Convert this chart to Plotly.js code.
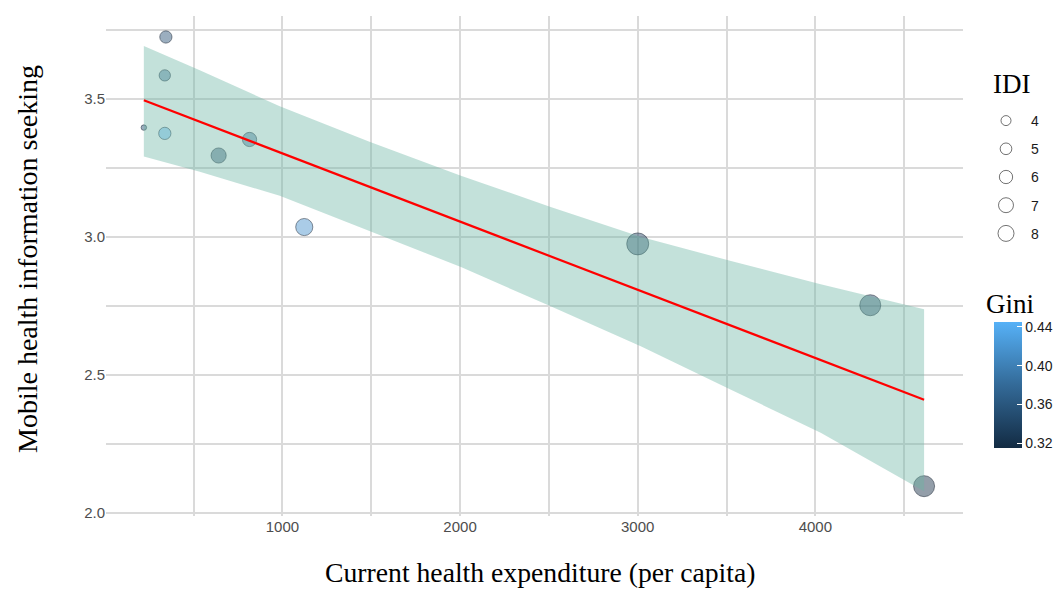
<!DOCTYPE html>
<html>
<head>
<meta charset="utf-8">
<script src="https://cdn.plot.ly/plotly-3.0.1.min.js"></script>
<style>html,body{margin:0;padding:0;background:#fff;}#chart{width:1063px;height:590px;}</style>
</head>
<body>
<div id="chart"></div>
<script>
// ---- data ----
const healthExp = [220, 344, 338, 338, 641, 815, 1123, 3000, 4309, 4612];
const mhis      = [3.396, 3.724, 3.585, 3.375, 3.295, 3.353, 3.036, 2.975, 2.753, 2.098];
const idi       = [3.60, 4.46, 4.24, 4.46, 5.36, 5.03, 6.14, 8.70, 8.12, 8.12];
const gini      = [0.350, 0.352, 0.372, 0.445, 0.342, 0.378, 0.414, 0.337, 0.337, 0.315];

const fitX = [220, 4612];
const fitY = [3.495, 2.411];

const bandX     = [220, 535, 985, 1490, 2005, 2510, 3020, 3525, 4030, 4612];
const bandUpper = [3.691, 3.604, 3.473, 3.345, 3.222, 3.109, 3.000, 2.913, 2.829, 2.738];
const bandLower = [3.291, 3.236, 3.149, 3.022, 2.891, 2.749, 2.604, 2.447, 2.291, 2.080];

const idiBreaks = [4, 5, 6, 7, 8];
const giniTicks = [0.32, 0.36, 0.40, 0.44];

// ---- styling / mapping ----
const W = 1063, H = 590;
const serif = 'Liberation Serif, Times New Roman, serif';
const sans = 'Liberation Sans, Arial, sans-serif';

const idiMin = Math.min(...idi), idiMax = Math.max(...idi);
function pointDiameter(v) { return 6.5 + 16.5 * Math.sqrt((v - idiMin) / (idiMax - idiMin)) - 1; }
function legendDiameter(v) { return 10 + 1.65 * (v - idiBreaks[0]); }

const giniMin = Math.min(...gini), giniMax = Math.max(...gini);
const sizes = idi.map(pointDiameter);

const traces = [];

// points: translucent fill
traces.push({
  x: healthExp, y: mhis, type: 'scatter', mode: 'markers', showlegend: false, hoverinfo: 'skip',
  marker: {
    size: sizes,
    color: gini, cmin: giniMin, cmax: giniMax,
    colorscale: [[0, '#132B43'], [0.5, '#336A98'], [1, '#56B1F7']],
    opacity: 0.46,
    line: {width: 0},
    colorbar: {
      x: 994 / W, xanchor: 'left', xpad: 0,
      y: 1 - 385 / H, yanchor: 'middle', ypad: 0,
      len: 126, lenmode: 'pixels', thickness: 28, thicknessmode: 'pixels',
      outlinewidth: 0,
      tickvals: giniTicks, tickformat: '.2f',
      ticks: 'inside', ticklen: 5, tickcolor: '#ffffff', tickwidth: 1.3,
      tickfont: {family: sans, size: 14, color: '#1a1a1a'}
    }
  }
});
// points: outlines
traces.push({
  x: healthExp, y: mhis, type: 'scatter', mode: 'markers', showlegend: false, hoverinfo: 'skip',
  marker: {size: sizes, color: 'rgba(0,0,0,0)', line: {color: 'rgba(25,35,50,0.7)', width: 1}}
});

// confidence band (drawn over the points, as in the reference)
traces.push({
  x: bandX.concat(bandX.slice().reverse()),
  y: bandUpper.concat(bandLower.slice().reverse()),
  type: 'scatter', mode: 'lines', fill: 'toself',
  fillcolor: 'rgba(105,179,162,0.40)', line: {width: 0, color: 'rgba(0,0,0,0)'},
  hoverinfo: 'skip', showlegend: false
});

// fitted line
traces.push({
  x: fitX, y: fitY, type: 'scatter', mode: 'lines',
  line: {color: '#ff0000', width: 2.2}, showlegend: false, hoverinfo: 'skip'
});

// size legend entries
idiBreaks.forEach(function (b) {
  traces.push({
    x: [null], y: [null], type: 'scatter', mode: 'markers',
    name: String(b), legendgroup: 'g' + b, showlegend: true, hoverinfo: 'skip',
    marker: {size: legendDiameter(b), color: '#ffffff', line: {color: 'rgba(0,0,0,0.55)', width: 1}}
  });
});

const gridC = '#dadada';
const layout = {
  width: W, height: H,
  margin: {l: 0, r: 0, t: 0, b: 0},
  paper_bgcolor: '#ffffff', plot_bgcolor: '#ffffff',
  xaxis: {
    domain: [106 / W, 963 / W], range: [7, 4831],
    tick0: 0, dtick: 1000, showline: false, zeroline: false, ticks: '',
    showgrid: true, gridcolor: gridC, gridwidth: 2,
    minor: {dtick: 500, tick0: 0, showgrid: true, gridcolor: gridC, gridwidth: 2},
    tickfont: {family: sans, size: 15, color: '#4d4d4d'},
    automargin: false
  },
  yaxis: {
    domain: [1 - 516 / H, 1 - 16 / H], range: [1.99, 3.80],
    tick0: 0, dtick: 0.5, tickformat: '.1f', showline: false, zeroline: false, ticks: '',
    showgrid: true, gridcolor: gridC, gridwidth: 2,
    minor: {dtick: 0.25, tick0: 0, showgrid: true, gridcolor: gridC, gridwidth: 2},
    tickfont: {family: sans, size: 15, color: '#4d4d4d'},
    automargin: false
  },
  legend: {
    x: 981 / W, xanchor: 'left', y: 1 - 105 / H, yanchor: 'top',
    font: {family: sans, size: 14, color: '#1a1a1a'},
    itemwidth: 40, tracegroupgap: 7, bgcolor: 'rgba(0,0,0,0)', itemsizing: 'trace'
  },
  annotations: [
    {text: 'Current health expenditure (per capita)', xref: 'paper', yref: 'paper',
     x: 540 / W, y: 1 - 572 / H, xanchor: 'center', yanchor: 'middle', showarrow: false,
     font: {family: serif, size: 27.7, color: '#000'}},
    {text: 'Mobile health information seeking', xref: 'paper', yref: 'paper',
     x: 27 / W, y: 1 - 259 / H, xanchor: 'center', yanchor: 'middle', showarrow: false,
     textangle: -90, font: {family: serif, size: 28, color: '#000'}},
    {text: 'IDI', xref: 'paper', yref: 'paper',
     x: 991 / W, y: 1 - 84 / H, xanchor: 'left', yanchor: 'middle', showarrow: false,
     font: {family: serif, size: 27, color: '#000'}},
    {text: 'Gini', xref: 'paper', yref: 'paper',
     x: 984 / W, y: 1 - 304 / H, xanchor: 'left', yanchor: 'middle', showarrow: false,
     font: {family: serif, size: 27, color: '#000'}}
  ]
};

Plotly.newPlot('chart', traces, layout, {displayModeBar: false});
</script>
</body>
</html>
